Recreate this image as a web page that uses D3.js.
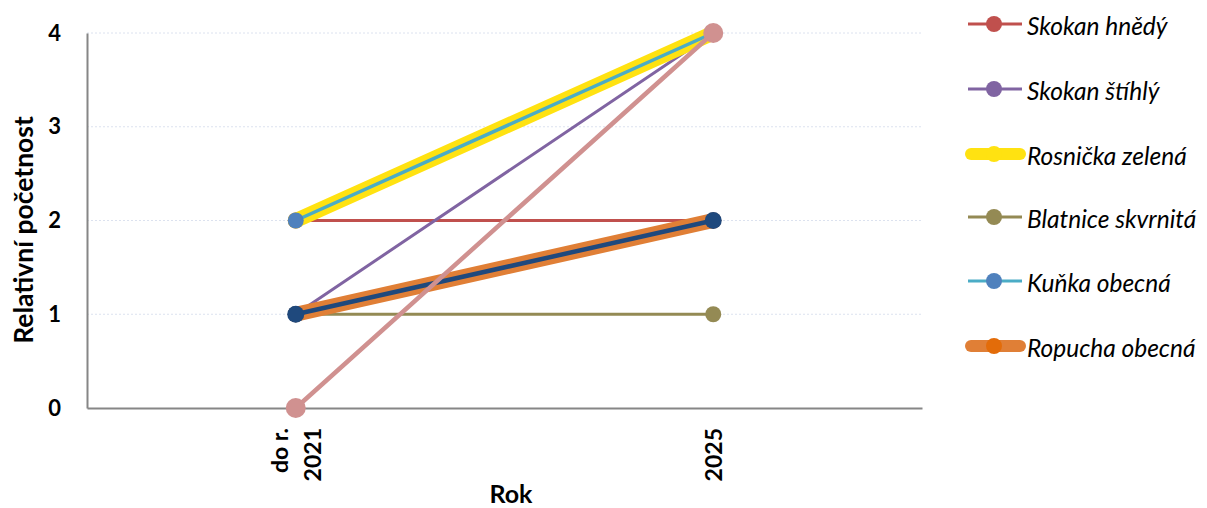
<!DOCTYPE html>
<html>
<head>
<meta charset="utf-8">
<script src="https://cdn.jsdelivr.net/npm/d3@7"></script>
<style>
html,body{margin:0;padding:0;background:#fff;}
svg{display:block;}
</style>
</head>
<body>
<svg id="chart" width="1207" height="508"></svg>
<script>
// ---- data ----
const categories = ["do r. 2021", "2025"];
const categoryLabelLines = [["do r.", "2021"], ["2025"]];
const yTicks = [0, 1, 2, 3, 4];

const seriesNames = ["Skokan hnědý", "Skokan štíhlý", "Rosnička zelená", "Blatnice skvrnitá", "Kuňka obecná", "Ropucha obecná", "Série 7", "Série 8"];
const skokanHnedy = [2, 2];
const skokanStihly = [1, 4];
const rosnickaZelena = [2, 4];
const blatniceSkvrnita = [1, 1];
const kunkaObecna = [2, 4];
const ropuchaObecna = [1, 2];
const serie7 = [1, 2];
const serie8 = [0, 4];
const legendCount = 6;

// ---- styles ----
const styles = [
  {line: "#C0504D", marker: "#C0504D", w: 3, r: 8},
  {line: "#8064A2", marker: "#8064A2", w: 3, r: 8},
  {line: "#FFE211", marker: "#FFE211", w: 15, r: 8},
  {line: "#948A54", marker: "#948A54", w: 3, r: 8},
  {line: "#4BACC6", marker: "#4F81BD", w: 3.5, r: 8},
  {line: "#E07F36", marker: "#E36C09", w: 15, r: 8},
  {line: "#1F497D", marker: "#1F497D", w: 4.5, r: 8.5},
  {line: "#D09190", marker: "#D09190", w: 4.5, r: 10}
];
const allValues = [skokanHnedy, skokanStihly, rosnickaZelena, blatniceSkvrnita, kunkaObecna, ropuchaObecna, serie7, serie8];
const series = seriesNames.map((n, i) => ({name: n, values: allValues[i], style: styles[i]}));

const svg = d3.select("#chart");
const m = {left: 87, right: 922, top: 33, bottom: 408};
const font = "Lato, 'Open Sans', sans-serif";

const x = d3.scaleBand().domain(categories).range([m.left, m.right]).padding(0);
const y = d3.scaleLinear().domain([0, 4]).range([m.bottom, m.top]);
const cx = c => x(c) + x.bandwidth() / 2;

// gridlines
svg.append("g").selectAll("line").data(yTicks.filter(t => t > 0)).join("line")
  .attr("x1", m.left).attr("x2", m.right)
  .attr("y1", d => y(d)).attr("y2", d => y(d))
  .attr("stroke", "#DCE2EF").attr("stroke-width", 1).attr("stroke-dasharray", "2,2");

// y axis
const yAxis = svg.append("g").attr("transform", `translate(${m.left},0)`)
  .call(d3.axisLeft(y).tickValues(yTicks).tickFormat(d3.format("d")).tickSize(0).tickPadding(26));
yAxis.select(".domain").attr("stroke", "#868686").attr("stroke-width", 2);
yAxis.selectAll("text").attr("font-family", font).attr("font-weight", "bold").attr("font-size", 22).attr("fill", "#000");

// x axis
const xAxis = svg.append("g").attr("transform", `translate(0,${m.bottom})`)
  .call(d3.axisBottom(x).tickSize(0).tickFormat(""));
xAxis.select(".domain").attr("stroke", "#868686").attr("stroke-width", 2);

// x tick labels (rotated, multiline)
categories.forEach((c, i) => {
  const lines = categoryLabelLines[i];
  const n = lines.length;
  lines.forEach((ln, j) => {
    const off = (j - (n - 1) / 2) * 33;
    svg.append("text")
      .attr("transform", `translate(${cx(c) + off},${m.bottom + 20}) rotate(-90)`)
      .attr("text-anchor", "end").attr("dominant-baseline", "central")
      .attr("font-family", font).attr("font-weight", "bold").attr("font-size", 23)
      .attr("fill", "#000").text(ln);
  });
});

// axis titles
svg.append("text").attr("x", 511).attr("y", 503)
  .attr("text-anchor", "middle").attr("font-family", font).attr("font-weight", "bold")
  .attr("font-size", 25).attr("fill", "#000").text("Rok");
svg.append("text").attr("transform", "translate(33,230) rotate(-90)")
  .attr("text-anchor", "middle").attr("font-family", font).attr("font-weight", "bold")
  .attr("font-size", 26.5).attr("fill", "#000").text("Relativní početnost");

// series
const line = d3.line().x((d, i) => cx(categories[i])).y(d => y(d));
const plot = svg.append("g");
series.forEach(s => {
  const g = plot.append("g");
  g.append("path").attr("d", line(s.values)).attr("fill", "none")
    .attr("stroke", s.style.line).attr("stroke-width", s.style.w)
    .attr("stroke-linecap", "round").attr("stroke-linejoin", "round");
  g.selectAll("circle").data(s.values).join("circle")
    .attr("cx", (d, i) => cx(categories[i])).attr("cy", d => y(d))
    .attr("r", s.style.r).attr("fill", s.style.marker);
});

// legend
const legend = svg.append("g");
const legendY = [24, 89, 154, 217, 281, 346];
series.slice(0, legendCount).forEach((s, i) => {
  const g = legend.append("g").attr("transform", `translate(0,${legendY[i]})`);
  const thick = s.style.w > 6;
  g.append("line").attr("x1", thick ? 971 : 968).attr("x2", thick ? 1020 : 1022)
    .attr("y1", 0).attr("y2", 0)
    .attr("stroke", s.style.line).attr("stroke-width", thick ? 12 : 3)
    .attr("stroke-linecap", thick ? "round" : "butt");
  g.append("circle").attr("cx", 994).attr("cy", 0).attr("r", 8).attr("fill", s.style.marker);
  g.append("text").attr("x", 1027).attr("y", 1).attr("dominant-baseline", "central")
    .attr("font-family", font).attr("font-style", "italic").attr("font-size", 24.5)
    .attr("fill", "#000").text(s.name);
});
</script>
</body>
</html>
